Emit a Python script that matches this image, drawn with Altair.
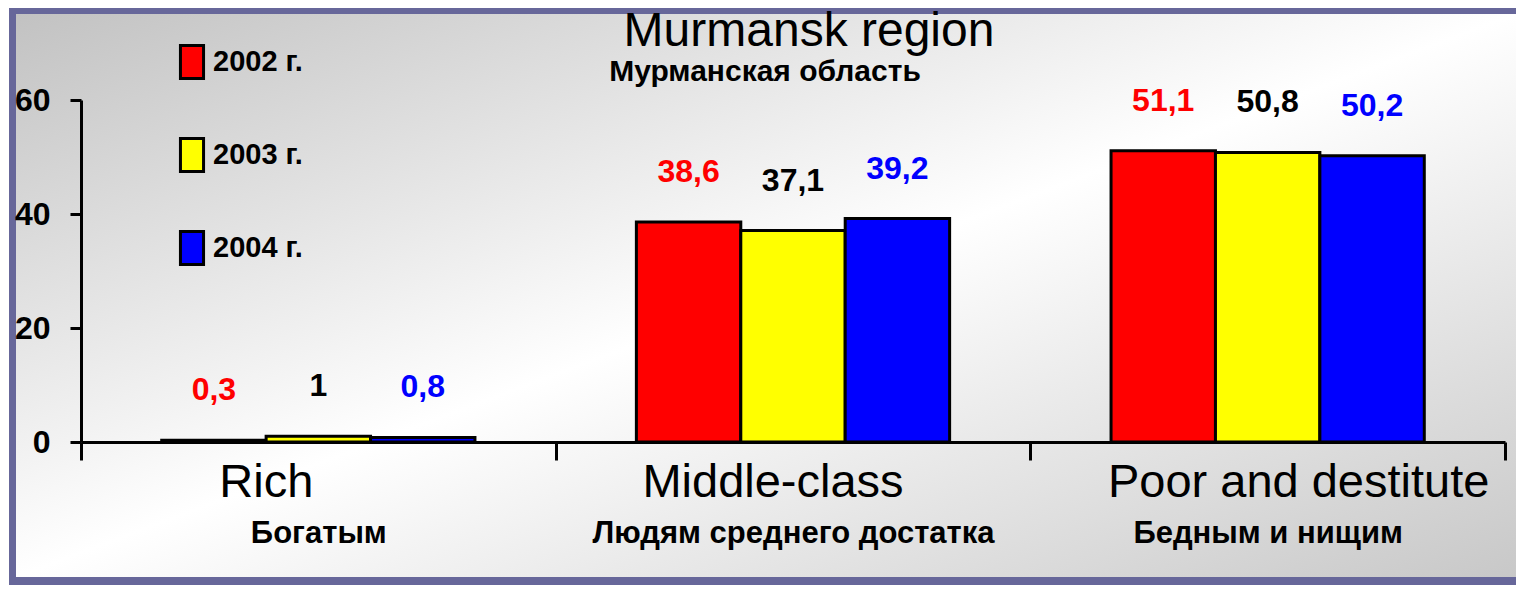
import altair as alt
import pandas as pd

# ---- data ----
categories = ["Богатым", "Людям среднего достатка", "Бедным и нищим"]
categories_en = ["Rich", "Middle-class", "Poor and destitute"]
years = ["2002 г.", "2003 г.", "2004 г."]
v2002 = [0.3, 38.6, 51.1]
v2003 = [1.0, 37.1, 50.8]
v2004 = [0.8, 39.2, 50.2]
y_ticks = [0, 20, 40, 60]
title_en = "Murmansk region"
title_ru = "Мурманская область"

rows = []
for yr, vals in zip(years, [v2002, v2003, v2004]):
    for c, v in zip(categories, vals):
        rows.append({"cat": c, "year": yr, "value": v})
df = pd.DataFrame(rows)
df_en = pd.DataFrame({"cat": categories, "en": categories_en})

# ---- style ----
NARROW = "Liberation Sans, Arial, sans-serif"
SANS = "Liberation Sans, Arial, sans-serif"
PURPLE = "#67679a"
bar_colors = ["#ff0000", "#ffff00", "#0000ff"]
label_colors = ["#ff0000", "#000000", "#0000ff"]
W, H = 1424, 342
PAD = {"left": 73, "top": 92, "right": 11, "bottom": 143}
RIGHT = W + PAD["right"]          # right edge of canvas, relative to plot origin
BOTTOM = H + PAD["bottom"]        # bottom edge of canvas, relative to plot origin

x_enc = alt.X(
    "cat:N", sort=categories,
    scale=alt.Scale(paddingInner=0, paddingOuter=0),
    axis=alt.Axis(title=None, labelAngle=0, tickBand="extent", tickSize=18, tickWidth=3,
                  tickColor="black", domainWidth=3, domainColor="black",
                  labelFont=NARROW, labelFontSize=31, labelFontWeight="bold",
                  labelColor="black", labelPadding=58, labelBaseline="top",
                  labelLimit=600, zindex=1),
)
xo_enc = alt.XOffset("year:N", sort=years, scale=alt.Scale(paddingInner=0, paddingOuter=0.773))
y_enc = alt.Y(
    "value:Q", scale=alt.Scale(domain=[0, 60], nice=False),
    axis=alt.Axis(title=None, values=y_ticks, grid=False, tickSize=11, tickWidth=3,
                  tickColor="black", domainWidth=3, domainColor="black",
                  labelFont=NARROW, labelFontSize=32, labelFontWeight="bold",
                  labelColor="black", labelPadding=20, zindex=1),
)

one = pd.DataFrame({"k": [0]})

bg = alt.Chart(one).mark_rect(
    clip=False,
    fill=alt.LinearGradient(
        gradient="linear", x1=0, y1=0, x2=1, y2=1,
        stops=[alt.GradientStop(color="#c2c2c2", offset=0),
               alt.GradientStop(color="#ffffff", offset=0.5),
               alt.GradientStop(color="#c8c8c8", offset=1)],
    ),
).encode(x=alt.value(-65), x2=alt.value(RIGHT), y=alt.value(-86), y2=alt.value(BOTTOM - 8))

border_left = alt.Chart(one).mark_rect(clip=False, fill=PURPLE).encode(
    x=alt.value(-72), x2=alt.value(-65), y=alt.value(-92), y2=alt.value(BOTTOM))
border_top = alt.Chart(one).mark_rect(clip=False, fill=PURPLE).encode(
    x=alt.value(-72), x2=alt.value(RIGHT), y=alt.value(-92), y2=alt.value(-86))
border_bottom = alt.Chart(one).mark_rect(clip=False, fill=PURPLE).encode(
    x=alt.value(-72), x2=alt.value(RIGHT), y=alt.value(BOTTOM - 8), y2=alt.value(BOTTOM))

bars = alt.Chart(df).mark_bar(stroke="black", strokeWidth=3).encode(
    x=x_enc, xOffset=xo_enc, y=y_enc,
    fill=alt.Fill("year:N", sort=years,
                  scale=alt.Scale(domain=years, range=bar_colors),
                  legend=alt.Legend(title=None, orient="none", legendX=93, legendY=-56,
                                    direction="vertical",
                                    symbolType="M-0.7,-1H0.7V1H-0.7Z",
                                    symbolSize=1089, symbolStrokeColor="black",
                                    symbolStrokeWidth=3, symbolOpacity=1,
                                    labelFont=NARROW, labelFontSize=29,
                                    labelFontWeight="bold", labelColor="black",
                                    labelOffset=3, rowPadding=47, padding=0, zindex=1)),
)

values = alt.Chart(df).transform_calculate(
    lbl="replace(format(datum.value, '.1~f'), '.', ',')"
).mark_text(font=NARROW, fontSize=32, fontWeight="bold", baseline="middle", dy=-50).encode(
    x=alt.X("cat:N", sort=categories), xOffset=alt.XOffset("year:N", sort=years),
    y=alt.Y("value:Q"),
    text="lbl:N",
    color=alt.Color("year:N", scale=alt.Scale(domain=years, range=label_colors), legend=None),
)

en_shift = {"Rich": -52, "Middle-class": -20, "Poor and destitute": 31}
en_layers = []
for en in categories_en:
    en_layers.append(
        alt.Chart(df_en).transform_filter(alt.datum.en == en)
        .mark_text(font=SANS, fontSize=47, color="black", baseline="alphabetic",
                   align="center", dx=en_shift[en])
        .encode(x=alt.X("cat:N", sort=categories), y=alt.value(397), text="en:N")
    )

titles = pd.DataFrame({"en": [title_en], "ru": [title_ru]})
t_en = alt.Chart(titles).mark_text(font=SANS, fontSize=48, color="black",
                                   baseline="alphabetic", align="center").encode(
    x=alt.value(728), y=alt.value(-54), text="en:N")
t_ru = alt.Chart(titles).mark_text(font=NARROW, fontSize=30, fontWeight="bold", color="black",
                                   baseline="alphabetic", align="center").encode(
    x=alt.value(684), y=alt.value(-19), text="ru:N")

chart = alt.layer(
    bg, border_left, border_top, border_bottom, bars, values, *en_layers, t_en, t_ru
).properties(
    width=W, height=H, padding=PAD, autosize=alt.AutoSizeParams(type="none"),
).configure_view(stroke=None).configure(background="white")

chart.save("out.html", embed_options={"renderer": "svg", "actions": False})
